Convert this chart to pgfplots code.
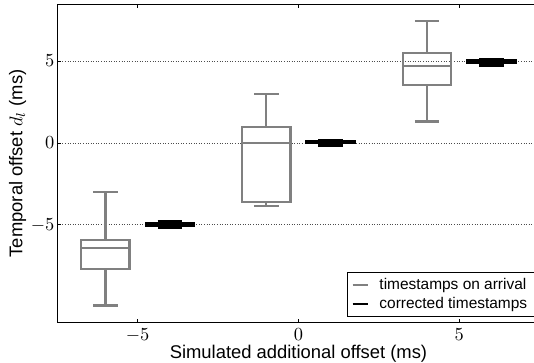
\documentclass[border=0pt]{standalone}
\usepackage{fontspec}
\setmainfont{Liberation Sans}
\usepackage{pgfplots}
\pgfplotsset{compat=1.18}
\usepgfplotslibrary{statistics}
\definecolor{boxgray}{RGB}{128,128,128}
\begin{document}
\begin{tikzpicture}
\begin{axis}[
  scale only axis,
  width=262.2pt, height=172.8pt,
  xmin=-7.5, xmax=7.5,
  ymin=-10.95, ymax=8.45,
  xtick={-5,0,5}, ytick={-5,0,5},
  tick align=inside,
  xtick pos=both, ytick pos=left,
  major tick length=2pt,
  every tick/.style={black, line width=0.5pt},
  axis line style={black, line width=0.6pt},
  ymajorgrids,
  major grid style={densely dotted, black!70, line width=0.5pt},
  yticklabel style={xshift=2pt},
  xlabel={Simulated additional offset (ms)},
  ylabel={Temporal offset $d_l$ (ms)},
  xlabel style={at={(axis description cs:0.5,0)}, anchor=base, yshift=-19.4pt},
  ylabel style={at={(axis description cs:-0.082,0.5)}, anchor=center},
  legend style={at={(rel axis cs:1,0)}, anchor=south east, xshift=-2.5pt, yshift=3pt,
    font=\fontsize{8.4}{9}\selectfont, draw=black, line width=0.6pt, inner xsep=2pt, inner ysep=1pt, row sep=-1.5pt},
  legend cell align=left,
  legend image code/.code={\draw[#1] (0pt,0pt) -- (8.3pt,0pt); \path (12pt,0pt);},
  boxplot/draw direction=y,
  boxplot/box extend=1.5,
  boxplot/whisker extend=0.76,
]
% timestamps on arrival (gray)
\addplot[draw=boxgray, line width=1.25pt, forget plot, boxplot prepared={draw position=-6,
  lower whisker=-9.92, lower quartile=-7.70, median=-6.42, upper quartile=-5.91, upper whisker=-2.97}] coordinates {};
\addplot[draw=boxgray, line width=1.25pt, forget plot, boxplot prepared={draw position=-1,
  lower whisker=-3.84, lower quartile=-3.58, median=0.0, upper quartile=0.99, upper whisker=2.97}] coordinates {};
\addplot[draw=boxgray, line width=1.25pt, forget plot, boxplot prepared={draw position=4,
  lower whisker=1.32, lower quartile=3.52, median=4.70, upper quartile=5.50, upper whisker=7.46}] coordinates {};
% corrected timestamps (black)
\addplot[draw=black, line width=1.25pt, forget plot, boxplot prepared={draw position=-4,
  lower whisker=-5.15, lower quartile=-5.05, median=-4.96, upper quartile=-4.88, upper whisker=-4.76}] coordinates {};
\addplot[draw=black, line width=1.25pt, forget plot, boxplot prepared={draw position=1,
  lower whisker=-0.15, lower quartile=0.0, median=0.06, upper quartile=0.12, upper whisker=0.20}] coordinates {};
\addplot[draw=black, line width=1.25pt, forget plot, boxplot prepared={draw position=6,
  lower whisker=4.72, lower quartile=4.88, median=5.00, upper quartile=5.08, upper whisker=5.13}] coordinates {};
\addlegendimage{boxgray, line width=1.25pt}
\addlegendentry{timestamps on arrival}
\addlegendimage{black, line width=1.25pt}
\addlegendentry{corrected timestamps}
\end{axis}
\pgfresetboundingbox
\path ([shift={(-31.1pt,-22pt)}]current axis.south west) rectangle ([shift={(-3.1pt,2.45pt)}]current axis.north east);
\end{tikzpicture}
\end{document}
